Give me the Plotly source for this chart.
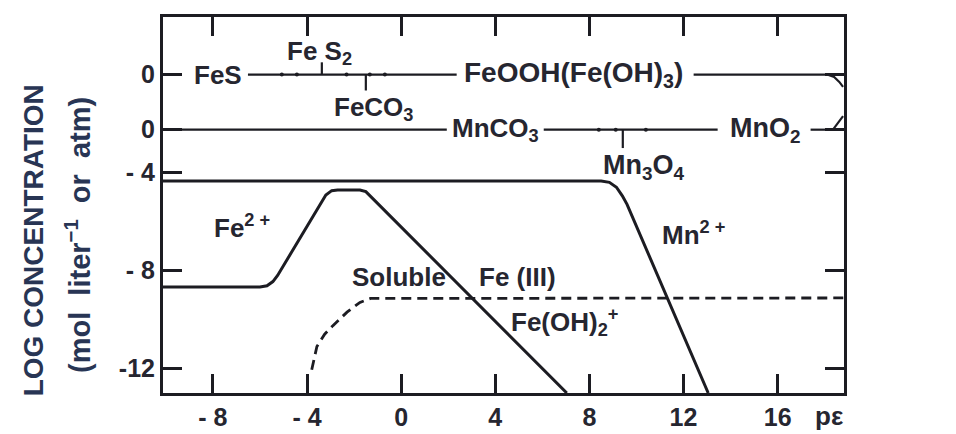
import plotly.graph_objects as go

# ---------------- data ----------------
# Fe2+ total soluble ferrous iron vs pe
pe_fe2 = [-10.12, -6.0, -5.7, -5.45, -5.25, -3.45, -3.2, -2.95, -2.7, -1.75, -1.5, 7.04]
logc_fe2 = [-8.67, -8.67, -8.62, -8.45, -8.2, -5.3, -4.92, -4.74, -4.71, -4.71, -4.78, -13.0]

# Mn2+ vs pe
pe_mn2 = [-10.12, 8.5, 8.85, 9.15, 9.4, 9.6, 13.05]
logc_mn2 = [-4.35, -4.35, -4.4, -4.6, -4.95, -5.3, -13.0]

# Soluble Fe(III) (dashed)
pe_fe3 = [-3.8, -3.58, -3.25, -2.9, -2.3, -1.75, -1.3, 18.82]
logc_fe3 = [-12.05, -11.1, -10.6, -10.25, -9.7, -9.3, -9.14, -9.12]

# Solid-phase rows (display levels)
fe_solid_level = 0.0
mn_solid_level = -2.25
fe_row_seg1 = [-6.51, 2.36]
fe_row_seg2 = [12.43, 18.1]
mn_row_seg1 = [-10.12, 1.94]
mn_row_seg2 = [6.06, 13.45]
mn_row_seg3 = [17.4, 18.35]
fe_bracket_pe = [18.1, 18.4, 18.62, 18.78]
fe_bracket_logc = [0.0, -0.1, -0.3, -0.5]
mn_bracket_pe = [18.35, 18.78]
mn_bracket_logc = [-2.25, -1.7]

# phase-boundary markers (pe, end of marker)
fe_fes2_boundary = [-3.37, 0.5]
fe_feco3_boundary = [-1.5, -0.65]
mn_mn3o4_boundary = [9.42, -3.0]
fe_row_dots = [-5.07, -4.43, -2.32, -1.33, -0.69]
mn_row_dots = [8.4, 9.12, 10.4]

# axes
x_range = [-10.12, 18.82]
y_range = [-13.0, 2.35]
x_tickvals = [-8, -4, 0, 4, 8, 12, 16]
x_ticktext = ["- 8", "- 4", "0", "4", "8", "12", "16"]
y_tickvals = [0, -2.25, -4, -8, -12]
y_ticktext = ["0", "0", "- 4", "- 8", "-12"]

# ---------------- figure ----------------
LINE = "#1c1c22"
TXT = "#262630"
TITLE = "#283554"
FONT = "Liberation Sans, Arial, sans-serif"

fig = go.Figure()

def add_line(x, y, width=2.6, dash="solid"):
    fig.add_trace(go.Scatter(x=x, y=y, mode="lines",
                             line=dict(color=LINE, width=width, dash=dash),
                             showlegend=False, hoverinfo="skip"))

add_line(pe_fe2, logc_fe2, 3.0)
add_line(pe_mn2, logc_mn2, 3.0)
add_line(pe_fe3, logc_fe3, 2.8, dash="10px,6px")

for seg in (fe_row_seg1, fe_row_seg2):
    add_line(seg, [fe_solid_level] * 2, 2.2)
for seg in (mn_row_seg1, mn_row_seg2, mn_row_seg3):
    add_line(seg, [mn_solid_level] * 2, 2.2)
add_line(fe_bracket_pe, fe_bracket_logc, 2.2)
add_line(mn_bracket_pe, mn_bracket_logc, 2.2)

add_line([fe_fes2_boundary[0]] * 2, [fe_solid_level, fe_fes2_boundary[1]], 2.2)
add_line([fe_feco3_boundary[0]] * 2, [fe_solid_level, fe_feco3_boundary[1]], 2.2)
add_line([mn_mn3o4_boundary[0]] * 2, [mn_solid_level, mn_mn3o4_boundary[1]], 2.2)

fig.add_trace(go.Scatter(x=fe_row_dots, y=[fe_solid_level] * len(fe_row_dots), mode="markers",
                         marker=dict(color=LINE, size=4), showlegend=False, hoverinfo="skip"))
fig.add_trace(go.Scatter(x=mn_row_dots, y=[mn_solid_level] * len(mn_row_dots), mode="markers",
                         marker=dict(color=LINE, size=4), showlegend=False, hoverinfo="skip"))

labels = [
    ("FeS", -8.89, 0.0, 26),
    ("Fe S<sub>2</sub>", -4.94, 0.89, 26),
    ("FeCO<sub>3</sub>", -2.95, -1.38, 26),
    ("FeOOH(Fe(OH)<sub>3</sub>)", 2.57, 0.0, 28),
    ("MnCO<sub>3</sub>", 2.07, mn_solid_level, 26),
    ("MnO<sub>2</sub>", 13.9, mn_solid_level, 27),
    ("Mn<sub>3</sub>O<sub>4</sub>", 8.48, -3.78, 27),
    ("Fe<sup>2 +</sup>", -8.04, -6.2, 26),
    ("Mn<sup>2 +</sup>", 10.98, -6.5, 26),
    ("Soluble", -2.18, -8.25, 26),
    ("Fe (III)", 3.21, -8.25, 26),
    ("Fe(OH)<sub>2</sub><sup>+</sup>", 4.6, -10.1, 26),
    ("SOLID", 18.97, -0.57, 26),
    ("PHASES", 18.97, -1.79, 26),
]
for text, x, y, size in labels:
    fig.add_annotation(x=x, y=y, xref="x", yref="y", text="<b>" + text + "</b>", showarrow=False,
                       xanchor="left", yanchor="middle",
                       font=dict(family=FONT, size=size, color=TXT))

fig.add_annotation(x=18.2, y=-0.062, xref="x", yref="paper", text="<b>pε</b>", showarrow=False,
                   xanchor="center", yanchor="middle",
                   font=dict(family=FONT, size=26, color=TXT))

fig.add_annotation(x=-0.19, y=0.405, xref="paper", yref="paper", text="<b>LOG CONCENTRATION</b>",
                   textangle=-90, showarrow=False, xanchor="center", yanchor="middle",
                   font=dict(family=FONT, size=28, color=TITLE))
fig.add_annotation(x=-0.125, y=0.42, xref="paper", yref="paper",
                   text="<b>(mol  liter<sup>−1</sup>  or  atm)</b>",
                   textangle=-90, showarrow=False, xanchor="center", yanchor="middle",
                   font=dict(family=FONT, size=29, color=TITLE))

axis_common = dict(showline=True, linewidth=3, linecolor=LINE, mirror="ticks",
                   ticks="inside", ticklen=19, tickwidth=3, tickcolor=LINE,
                   showgrid=False, zeroline=False, automargin=False,
                   tickfont=dict(family=FONT, size=25, color=TXT, weight="bold"))

fig.update_xaxes(range=x_range, tickmode="array", tickvals=x_tickvals, ticktext=x_ticktext,
                 **axis_common)
fig.update_yaxes(range=y_range, tickmode="array", tickvals=y_tickvals, ticktext=y_ticktext,
                 **axis_common)

fig.update_layout(width=956, height=434, margin=dict(l=163, r=112, t=17, b=41),
                  paper_bgcolor="white", plot_bgcolor="white", showlegend=False)

fig.write_html("out.html")
